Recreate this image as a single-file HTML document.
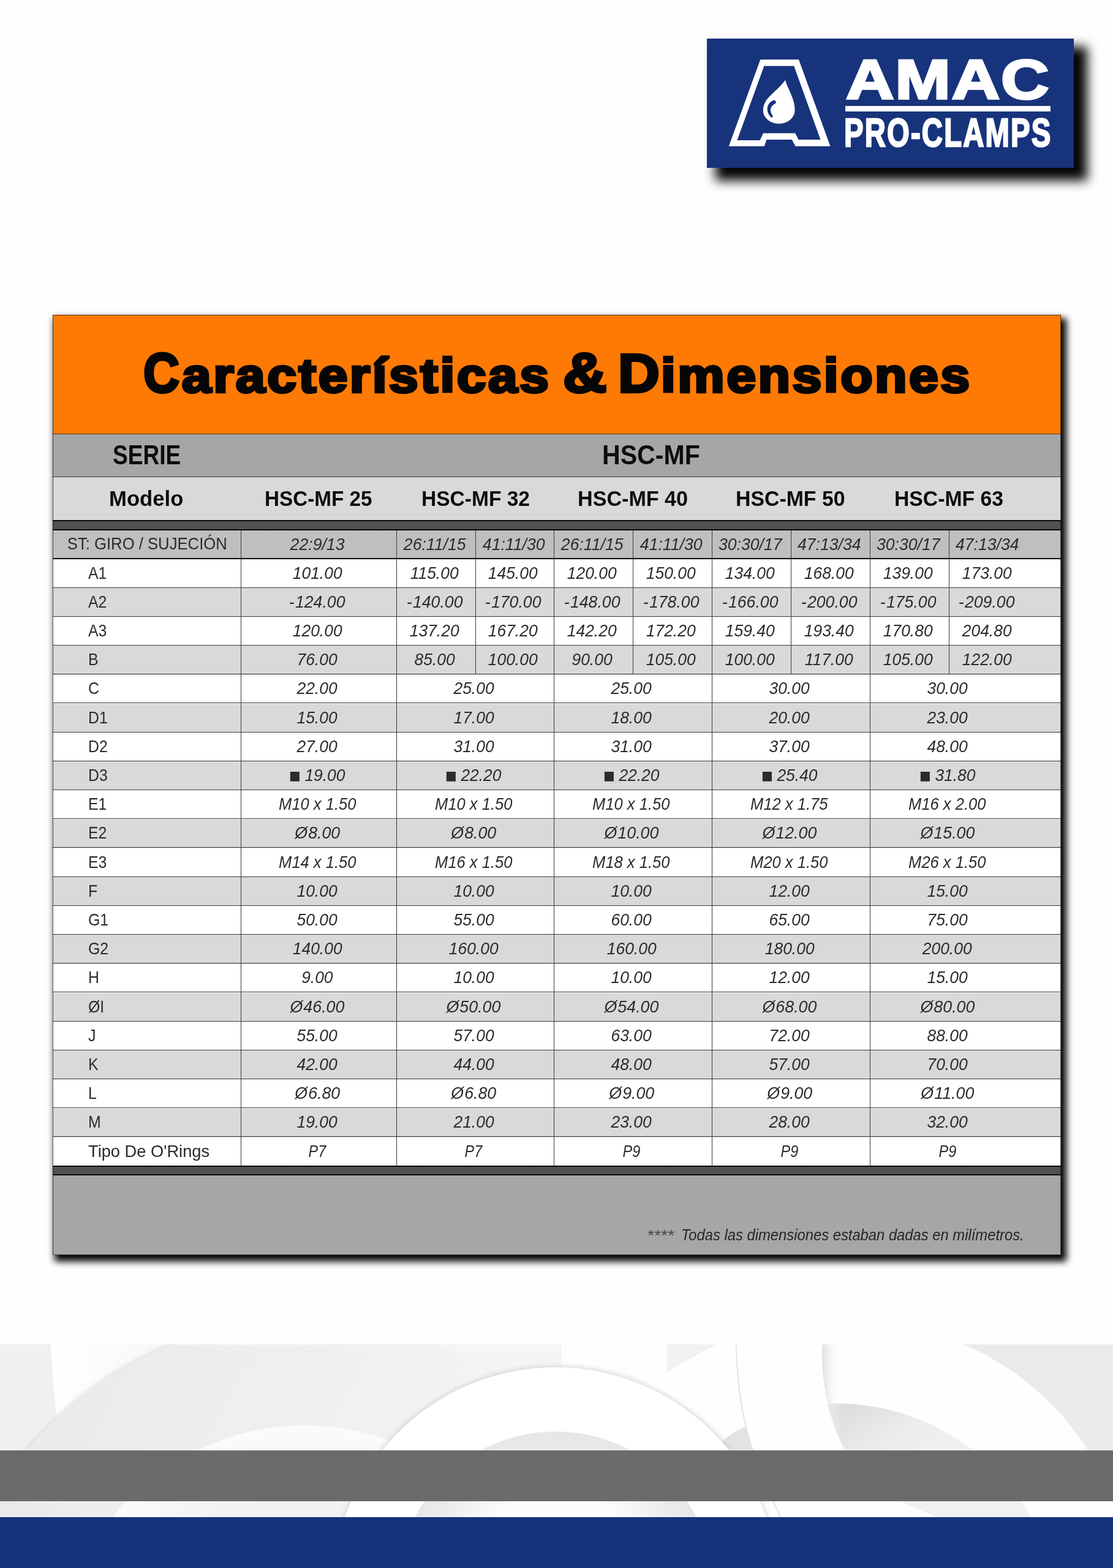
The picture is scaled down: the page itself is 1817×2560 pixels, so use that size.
<!DOCTYPE html>
<html lang="es">
<head>
<meta charset="utf-8">
<title>AMAC Pro-Clamps — Características &amp; Dimensiones HSC-MF</title>
<style>
*{box-sizing:border-box}
html,body{margin:0;padding:0;background:#fff}
body{width:1817px;height:2560px;overflow:hidden;font-family:"Liberation Sans",sans-serif;color:#111}
.page{position:relative;width:1817px;height:2560px;overflow:hidden;background:#fefefe}
.t{position:absolute;margin:0;white-space:pre;line-height:1;transform-origin:0 0}
h1{margin:0;font-size:inherit;font-weight:inherit}

/* footer */
.art{position:absolute;left:0;top:2194.7px;width:1817px;height:366px;display:block}
.band-gray{position:absolute;left:0;top:2367.9px;width:1817px;height:83.6px;background:#6a6a6a}
.band-blue{position:absolute;left:0;top:2477.2px;width:1817px;height:83px;background:#15317a}

/* logo */
.logo{position:absolute;left:1153.8px;top:63px;width:598.8px;height:210.8px;background:#17337b;
  box-shadow:18px 17px 17px 4px rgba(0,0,0,.98)}
.logo svg{position:absolute;left:0;top:0;width:598.8px;height:210.8px;display:block}
.logo-t{color:#fff;letter-spacing:0}
.logo-bar{position:absolute;left:1379.9px;top:172.9px;width:335.1px;height:9.6px;background:#fff}

/* card */
.card{position:absolute;left:86px;top:513.5px;width:1646px;height:1535px;background:#a6a6a6;
  box-shadow:6px 7.5px 11px 3px rgba(0,0,0,1)}
.card>.frame{top:0;height:1535px;border:1px solid rgba(0,0,0,.6);pointer-events:none}
.card>div{position:absolute;left:0;width:1646px}
.hd{top:0;height:194.7px;background:#ff7a05}
.serie{top:194.7px;height:70.7px;background:#a6a6a6}
.modelo{top:265.4px;height:70.3px;background:#d9d9d9}
.hatch{height:16.5px;border-top:2px solid #0a0a0a;border-bottom:2px solid #0a0a0a;
  background-color:#1a1a1a;
  background-image:linear-gradient(45deg,#6c6c6c 25%,transparent 25%,transparent 50%,#6c6c6c 50%,#6c6c6c 75%,transparent 75%);
  background-size:3px 3px}
.h1{top:335.6px}
.h2{top:1389.2px}
.st{top:352.1px;height:46.2px;background:#bfbfbf}
.r.w{background:#fff}
.r.g{background:#d9d9d9}
.foot{top:1405.4px;height:129.6px;background:#a6a6a6}
.card>.hl{height:1px;background:#3a3a3a}
.card>.hl.k2{height:2.2px;background:#0c0c0c}
.card>.hl.s1{background:#5a3a1a}
.card>.hl.s2{background:#333}
.card>.vl{width:1px;background:#3a3a3a}

/* text */
.title{color:#060606}
.title-wrap{display:block}
.sp{position:absolute;left:900px;top:600px;font-size:1px;color:transparent}
.h{color:#0d0d0d}
.cells{position:absolute;left:0;top:0}
.c{position:absolute;display:flex;align-items:center;justify-content:center;white-space:pre;line-height:1;
  font-size:27.6px;color:#2b2b2b}
.c span{display:inline-block}
.c.v{font-style:italic;padding-right:5.2px}
.c.v>span{transform:scaleX(.957)}
.c.vm>span{transform:scaleX(.925)}
.c.vo>span{transform:scaleX(.97)}
.c.vp>span{transform:scaleX(.85)}
.c.vn>span{transform:scaleX(.965)}
.c.lab{justify-content:flex-start;padding-left:57.8px}
.c.lab>span{transform:scaleX(.9);transform-origin:0 50%}
.c.tipo>span{transform:scaleX(.988)}
.c.stl{justify-content:center;padding-left:0}
.c.stl>span{transform:scaleX(.93);transform-origin:50% 50%}
.c.stv{padding-right:4px;padding-top:2px}
.c.stv>span{transform:scaleX(.965)}
.c .o{letter-spacing:1.2px}
.c .m{letter-spacing:1.5px}
.sq{font-style:normal;font-family:"DejaVu Sans","Liberation Sans",sans-serif;font-size:20.6px;margin-right:7px;position:relative;top:-2.4px}
.fn{color:#262626}
.fs{color:#484848}

</style>
</head>
<body>
<div class="page">
<svg class="art" viewBox="0 2194.7 1817 366" preserveAspectRatio="none" aria-hidden="true">
<defs>
<linearGradient id="gBig" gradientUnits="userSpaceOnUse" x1="150" y1="2200" x2="700" y2="2480"><stop offset="0" stop-color="#ebebeb"/><stop offset=".6" stop-color="#f0f0f0"/><stop offset="1" stop-color="#f4f4f4"/></linearGradient>
<radialGradient id="gIn" gradientUnits="userSpaceOnUse" cx="497" cy="2730" r="403"><stop offset="0" stop-color="#f0f0f0"/><stop offset=".72" stop-color="#f2f2f2"/><stop offset="1" stop-color="#fbfbfb"/></radialGradient>
<linearGradient id="gSl" gradientUnits="userSpaceOnUse" x1="84" y1="0" x2="300" y2="0"><stop offset="0" stop-color="#ffffff"/><stop offset="1" stop-color="#f6f6f6"/></linearGradient>
<linearGradient id="gCr" gradientUnits="userSpaceOnUse" x1="1400" y1="2290" x2="1480" y2="2420"><stop offset="0" stop-color="#dedede"/><stop offset=".5" stop-color="#ececec"/><stop offset="1" stop-color="#f1f1f1"/></linearGradient>
<radialGradient id="gRi" gradientUnits="userSpaceOnUse" cx="907" cy="2596" r="259"><stop offset="0" stop-color="#fdfdfd"/><stop offset=".62" stop-color="#fbfbfb"/><stop offset=".86" stop-color="#ececec"/><stop offset="1" stop-color="#e6e6e6"/></radialGradient>
<linearGradient id="gFold" gradientUnits="userSpaceOnUse" x1="1344" y1="0" x2="1372" y2="0"><stop offset="0" stop-color="#e2e2e2"/><stop offset="1" stop-color="#ffffff" stop-opacity="0"/></linearGradient>
<filter id="sh" x="-5%" y="-5%" width="110%" height="110%"><feGaussianBlur stdDeviation="3.5"/></filter>
<clipPath id="cR"><path d="M1342.3 2194.7A343 343 0 0 0 1420 2430L1817 2600V2194.7Z"/></clipPath>
</defs>
<rect x="0" y="2194.7" width="1817" height="366" fill="#fafafa"/>
<rect x="80" y="2194.7" width="260" height="366" fill="url(#gSl)"/>
<path d="M0 2194.7H82.8Q86 2262 94 2320Q110 2420 150 2561H0Z" fill="#f0f0f0"/>
<circle cx="498" cy="2744" r="593" fill="#cfcfcf" opacity=".55" filter="url(#sh)"/>
<circle cx="498" cy="2744" r="590" fill="url(#gBig)"/>
<circle cx="497" cy="2730" r="403" fill="url(#gIn)"/>
<path d="M712.7 2194.7H917V2232L812 2243Q760 2215 712.7 2194.7Z" fill="#f5f5f5"/>
<rect x="917" y="2194.7" width="900" height="366" fill="#fefefe"/>
<path d="M1089 2194.7H1171Q1115 2222 1089 2241Z" fill="#f1f1f1"/>
<path d="M1572.2 2194.7A439 439 0 0 1 1838 2540L1817 2561V2194.7Z" fill="#ebebeb"/>
<g clip-path="url(#cR)">
<circle cx="1365" cy="2656" r="365" fill="url(#gCr)"/>
<path d="M1342.3 2194.7A343 343 0 0 0 1379.6 2367H1400V2194.7Z" fill="url(#gFold)"/>
</g>
<path d="M1201.6 2194.7Q1205 2300 1229 2367.5Q1250 2430 1275 2477" fill="none" stroke="#e3e3e3" stroke-width="2"/>
<path d="M1180 2352Q1200 2335 1217 2329L1229 2367.5H1180Z" fill="#e3e3e3"/>
<circle cx="907" cy="2596" r="367" fill="#c8c8c8" opacity=".6" filter="url(#sh)"/>
<circle cx="907" cy="2596" r="364" fill="#fff"/>
<circle cx="907" cy="2596" r="259" fill="url(#gRi)"/>
</svg>

<div class="band-gray"></div>
<div class="band-blue"></div>
<div class="logo">
<svg viewBox="1153.8 63 598.8 210.8" aria-hidden="true">
<path fill="#fff" fill-rule="evenodd" d="M1241.1 97.3H1303.8L1355.3 238.8H1298.4L1292.6 227.9H1251.3L1247.5 238.8H1189.6Z M1247.2 107.8L1203.2 229H1240.4L1245.9 217.5H1298L1303.4 227.9H1339.3L1296 107.8Z"/>
<path fill="#fff" d="M1281.8 130.8C1283 137 1290 150 1294 161.3C1296.5 168.5 1297.3 174 1297.3 180.2C1297.3 192 1286 201.9 1271.6 201.9C1257 201.9 1245.6 192 1245.6 180.2C1245.6 166 1256 157.5 1264.8 149.1C1271 143.3 1278 136 1281.8 130.8Z"/>
<path fill="#17337b" d="M1261.6 164.3C1252 168 1248.6 181.5 1258.6 191.6C1260 192.6 1262.3 190.8 1261.4 189.3C1255.6 181.5 1256.8 173.2 1265.2 169.3A2.75 2.75 0 0 0 1261.6 164.3Z"/>
</svg>

</div>
<div class="t logo-t" style="left:1380.50px;top:85px;font-family:'Liberation Sans',sans-serif;font-weight:bold;font-style:normal;font-size:90.00px;-webkit-text-stroke:3.4px;letter-spacing:1.5px;transform:scaleX(1.2077)">AMAC</div>
<div class="logo-bar"></div>
<div class="t logo-t" style="left:1377.72px;top:184px;font-family:'Liberation Sans',sans-serif;font-weight:bold;font-style:normal;font-size:65.00px;-webkit-text-stroke:2.6px;letter-spacing:3px;transform:scaleX(0.7270)">PRO-CLAMPS</div>
<div class="card">
<div class="hd"></div><div class="serie"></div><div class="modelo"></div><div class="hatch h1"></div><div class="st"></div>
<div class="r w" style="top:399.30px;height:47.20px"></div>
<div class="r g" style="top:446.50px;height:47.20px"></div>
<div class="r w" style="top:493.70px;height:47.20px"></div>
<div class="r g" style="top:540.90px;height:47.20px"></div>
<div class="r w" style="top:588.10px;height:47.20px"></div>
<div class="r g" style="top:635.30px;height:47.20px"></div>
<div class="r w" style="top:682.50px;height:47.20px"></div>
<div class="r g" style="top:729.70px;height:47.20px"></div>
<div class="r w" style="top:776.90px;height:47.20px"></div>
<div class="r g" style="top:824.10px;height:47.20px"></div>
<div class="r w" style="top:871.30px;height:47.20px"></div>
<div class="r g" style="top:918.50px;height:47.20px"></div>
<div class="r w" style="top:965.70px;height:47.20px"></div>
<div class="r g" style="top:1012.90px;height:47.20px"></div>
<div class="r w" style="top:1060.10px;height:47.20px"></div>
<div class="r g" style="top:1107.30px;height:47.20px"></div>
<div class="r w" style="top:1154.50px;height:47.20px"></div>
<div class="r g" style="top:1201.70px;height:47.20px"></div>
<div class="r w" style="top:1248.90px;height:47.20px"></div>
<div class="r g" style="top:1296.10px;height:47.20px"></div>
<div class="r w" style="top:1343.30px;height:47.20px"></div>
<div class="hatch h2"></div><div class="foot"></div>
<div class="hl k2" style="top:397.30px"></div>
<div class="hl" style="top:445.00px"></div>
<div class="hl" style="top:492.20px"></div>
<div class="hl" style="top:539.40px"></div>
<div class="hl" style="top:586.60px"></div>
<div class="hl" style="top:633.80px"></div>
<div class="hl" style="top:681.00px"></div>
<div class="hl" style="top:728.20px"></div>
<div class="hl" style="top:775.40px"></div>
<div class="hl" style="top:822.60px"></div>
<div class="hl" style="top:869.80px"></div>
<div class="hl" style="top:917.00px"></div>
<div class="hl" style="top:964.20px"></div>
<div class="hl" style="top:1011.40px"></div>
<div class="hl" style="top:1058.60px"></div>
<div class="hl" style="top:1105.80px"></div>
<div class="hl" style="top:1153.00px"></div>
<div class="hl" style="top:1200.20px"></div>
<div class="hl" style="top:1247.40px"></div>
<div class="hl" style="top:1294.60px"></div>
<div class="hl" style="top:1341.80px"></div>
<div class="hl s1" style="top:194.20px"></div>
<div class="hl s2" style="top:264.90px"></div>
<div class="vl" style="left:307.00px;top:352.10px;height:1037.40px"></div>
<div class="vl" style="left:560.80px;top:352.10px;height:1037.40px"></div>
<div class="vl" style="left:689.60px;top:352.10px;height:235.00px"></div>
<div class="vl" style="left:817.90px;top:352.10px;height:1037.40px"></div>
<div class="vl" style="left:946.80px;top:352.10px;height:235.00px"></div>
<div class="vl" style="left:1075.80px;top:352.10px;height:1037.40px"></div>
<div class="vl" style="left:1204.90px;top:352.10px;height:235.00px"></div>
<div class="vl" style="left:1333.90px;top:352.10px;height:1037.40px"></div>
<div class="vl" style="left:1462.50px;top:352.10px;height:235.00px"></div>
<div class="frame"></div>
</div>
<h1 class="title-wrap"><span class="t title" style="left:233.59px;top:564px;font-family:'Liberation Sans',sans-serif;font-weight:bold;font-style:normal;font-size:90.00px;-webkit-text-stroke:4.4px;transform:scaleX(0.9048)">C</span><span class="t title" style="left:297.00px;top:574px;font-family:'Liberation Sans',sans-serif;font-weight:bold;font-style:normal;font-size:78.50px;-webkit-text-stroke:4.4px;letter-spacing:3.2px;transform:scaleX(1.0932)">aracterísticas</span><span class="sp"> </span><span class="t title" style="left:918.60px;top:564px;font-family:'Liberation Sans',sans-serif;font-weight:bold;font-style:normal;font-size:90.00px;-webkit-text-stroke:4.4px;transform:scaleX(1.1016)">&amp;</span><span class="sp"> </span><span class="t title" style="left:1009.06px;top:566px;font-family:'Liberation Sans',sans-serif;font-weight:bold;font-style:normal;font-size:88.50px;-webkit-text-stroke:4.4px;transform:scaleX(1.0603)">D</span><span class="t title" style="left:1079.32px;top:574px;font-family:'Liberation Sans',sans-serif;font-weight:bold;font-style:normal;font-size:78.50px;-webkit-text-stroke:4.4px;letter-spacing:3.2px;transform:scaleX(1.0943)">imensiones</span></h1>
<div class="t h" style="left:183.50px;top:722px;font-family:'Liberation Sans',sans-serif;font-weight:bold;font-style:normal;font-size:43.50px;transform:scaleX(0.8512)">SERIE</div>
<div class="t h" style="left:982.57px;top:722px;font-family:'Liberation Sans',sans-serif;font-weight:bold;font-style:normal;font-size:43.50px;transform:scaleX(0.9445)">HSC-MF</div>
<div class="t h" style="left:178.35px;top:797px;font-family:'Liberation Sans',sans-serif;font-weight:bold;font-style:normal;font-size:35.50px;transform:scaleX(0.9769)">Modelo</div>
<div class="t h" style="left:432.13px;top:797px;font-family:'Liberation Sans',sans-serif;font-weight:bold;font-style:normal;font-size:35.50px;transform:scaleX(0.9370)">HSC-MF 25</div>
<div class="t h" style="left:687.51px;top:797px;font-family:'Liberation Sans',sans-serif;font-weight:bold;font-style:normal;font-size:35.50px;transform:scaleX(0.9446)">HSC-MF 32</div>
<div class="t h" style="left:943.08px;top:797px;font-family:'Liberation Sans',sans-serif;font-weight:bold;font-style:normal;font-size:35.50px;transform:scaleX(0.9609)">HSC-MF 40</div>
<div class="t h" style="left:1201.39px;top:797px;font-family:'Liberation Sans',sans-serif;font-weight:bold;font-style:normal;font-size:35.50px;transform:scaleX(0.9527)">HSC-MF 50</div>
<div class="t h" style="left:1460.00px;top:797px;font-family:'Liberation Sans',sans-serif;font-weight:bold;font-style:normal;font-size:35.50px;transform:scaleX(0.9495)">HSC-MF 63</div>
<div class="cells">
<div class="c lab stl" style="left:86.50px;top:865.60px;width:307.00px;height:45.20px"><span>ST: GIRO / SUJECIÓN</span></div>
<div class="c v stv" style="left:393.50px;top:865.60px;width:253.80px;height:45.20px"><span>22:9/13</span></div>
<div class="c v stv" style="left:647.30px;top:865.60px;width:128.80px;height:45.20px"><span>26:11/15</span></div>
<div class="c v stv" style="left:776.10px;top:865.60px;width:128.30px;height:45.20px"><span>41:11/30</span></div>
<div class="c v stv" style="left:904.40px;top:865.60px;width:128.90px;height:45.20px"><span>26:11/15</span></div>
<div class="c v stv" style="left:1033.30px;top:865.60px;width:129.00px;height:45.20px"><span>41:11/30</span></div>
<div class="c v stv" style="left:1162.30px;top:865.60px;width:129.10px;height:45.20px"><span>30:30/17</span></div>
<div class="c v stv" style="left:1291.40px;top:865.60px;width:129.00px;height:45.20px"><span>47:13/34</span></div>
<div class="c v stv" style="left:1420.40px;top:865.60px;width:128.60px;height:45.20px"><span>30:30/17</span></div>
<div class="c v stv" style="left:1549.00px;top:865.60px;width:129.00px;height:45.20px"><span>47:13/34</span></div>
<div class="c lab" style="left:86.50px;top:911.80px;width:307.00px;height:47.20px"><span>A1</span></div>
<div class="c v" style="left:393.50px;top:911.80px;width:253.80px;height:47.20px"><span>101.00</span></div>
<div class="c v" style="left:647.30px;top:911.80px;width:128.80px;height:47.20px"><span>115.00</span></div>
<div class="c v" style="left:776.10px;top:911.80px;width:128.30px;height:47.20px"><span>145.00</span></div>
<div class="c v" style="left:904.40px;top:911.80px;width:128.90px;height:47.20px"><span>120.00</span></div>
<div class="c v" style="left:1033.30px;top:911.80px;width:129.00px;height:47.20px"><span>150.00</span></div>
<div class="c v" style="left:1162.30px;top:911.80px;width:129.10px;height:47.20px"><span>134.00</span></div>
<div class="c v" style="left:1291.40px;top:911.80px;width:129.00px;height:47.20px"><span>168.00</span></div>
<div class="c v" style="left:1420.40px;top:911.80px;width:128.60px;height:47.20px"><span>139.00</span></div>
<div class="c v" style="left:1549.00px;top:911.80px;width:129.00px;height:47.20px"><span>173.00</span></div>
<div class="c lab" style="left:86.50px;top:959.00px;width:307.00px;height:47.20px"><span>A2</span></div>
<div class="c v vn" style="left:393.50px;top:959.00px;width:253.80px;height:47.20px"><span><span class="m">-</span>124.00</span></div>
<div class="c v vn" style="left:647.30px;top:959.00px;width:128.80px;height:47.20px"><span><span class="m">-</span>140.00</span></div>
<div class="c v vn" style="left:776.10px;top:959.00px;width:128.30px;height:47.20px"><span><span class="m">-</span>170.00</span></div>
<div class="c v vn" style="left:904.40px;top:959.00px;width:128.90px;height:47.20px"><span><span class="m">-</span>148.00</span></div>
<div class="c v vn" style="left:1033.30px;top:959.00px;width:129.00px;height:47.20px"><span><span class="m">-</span>178.00</span></div>
<div class="c v vn" style="left:1162.30px;top:959.00px;width:129.10px;height:47.20px"><span><span class="m">-</span>166.00</span></div>
<div class="c v vn" style="left:1291.40px;top:959.00px;width:129.00px;height:47.20px"><span><span class="m">-</span>200.00</span></div>
<div class="c v vn" style="left:1420.40px;top:959.00px;width:128.60px;height:47.20px"><span><span class="m">-</span>175.00</span></div>
<div class="c v vn" style="left:1549.00px;top:959.00px;width:129.00px;height:47.20px"><span><span class="m">-</span>209.00</span></div>
<div class="c lab" style="left:86.50px;top:1006.20px;width:307.00px;height:47.20px"><span>A3</span></div>
<div class="c v" style="left:393.50px;top:1006.20px;width:253.80px;height:47.20px"><span>120.00</span></div>
<div class="c v" style="left:647.30px;top:1006.20px;width:128.80px;height:47.20px"><span>137.20</span></div>
<div class="c v" style="left:776.10px;top:1006.20px;width:128.30px;height:47.20px"><span>167.20</span></div>
<div class="c v" style="left:904.40px;top:1006.20px;width:128.90px;height:47.20px"><span>142.20</span></div>
<div class="c v" style="left:1033.30px;top:1006.20px;width:129.00px;height:47.20px"><span>172.20</span></div>
<div class="c v" style="left:1162.30px;top:1006.20px;width:129.10px;height:47.20px"><span>159.40</span></div>
<div class="c v" style="left:1291.40px;top:1006.20px;width:129.00px;height:47.20px"><span>193.40</span></div>
<div class="c v" style="left:1420.40px;top:1006.20px;width:128.60px;height:47.20px"><span>170.80</span></div>
<div class="c v" style="left:1549.00px;top:1006.20px;width:129.00px;height:47.20px"><span>204.80</span></div>
<div class="c lab" style="left:86.50px;top:1053.40px;width:307.00px;height:47.20px"><span>B</span></div>
<div class="c v" style="left:393.50px;top:1053.40px;width:253.80px;height:47.20px"><span>76.00</span></div>
<div class="c v" style="left:647.30px;top:1053.40px;width:128.80px;height:47.20px"><span>85.00</span></div>
<div class="c v" style="left:776.10px;top:1053.40px;width:128.30px;height:47.20px"><span>100.00</span></div>
<div class="c v" style="left:904.40px;top:1053.40px;width:128.90px;height:47.20px"><span>90.00</span></div>
<div class="c v" style="left:1033.30px;top:1053.40px;width:129.00px;height:47.20px"><span>105.00</span></div>
<div class="c v" style="left:1162.30px;top:1053.40px;width:129.10px;height:47.20px"><span>100.00</span></div>
<div class="c v" style="left:1291.40px;top:1053.40px;width:129.00px;height:47.20px"><span>117.00</span></div>
<div class="c v" style="left:1420.40px;top:1053.40px;width:128.60px;height:47.20px"><span>105.00</span></div>
<div class="c v" style="left:1549.00px;top:1053.40px;width:129.00px;height:47.20px"><span>122.00</span></div>
<div class="c lab" style="left:86.50px;top:1100.60px;width:307.00px;height:47.20px"><span>C</span></div>
<div class="c v" style="left:393.50px;top:1100.60px;width:253.80px;height:47.20px"><span>22.00</span></div>
<div class="c v" style="left:647.30px;top:1100.60px;width:257.10px;height:47.20px"><span>25.00</span></div>
<div class="c v" style="left:904.40px;top:1100.60px;width:257.90px;height:47.20px"><span>25.00</span></div>
<div class="c v" style="left:1162.30px;top:1100.60px;width:258.10px;height:47.20px"><span>30.00</span></div>
<div class="c v" style="left:1420.40px;top:1100.60px;width:257.60px;height:47.20px"><span>30.00</span></div>
<div class="c lab" style="left:86.50px;top:1147.80px;width:307.00px;height:47.20px"><span>D1</span></div>
<div class="c v" style="left:393.50px;top:1147.80px;width:253.80px;height:47.20px"><span>15.00</span></div>
<div class="c v" style="left:647.30px;top:1147.80px;width:257.10px;height:47.20px"><span>17.00</span></div>
<div class="c v" style="left:904.40px;top:1147.80px;width:257.90px;height:47.20px"><span>18.00</span></div>
<div class="c v" style="left:1162.30px;top:1147.80px;width:258.10px;height:47.20px"><span>20.00</span></div>
<div class="c v" style="left:1420.40px;top:1147.80px;width:257.60px;height:47.20px"><span>23.00</span></div>
<div class="c lab" style="left:86.50px;top:1195.00px;width:307.00px;height:47.20px"><span>D2</span></div>
<div class="c v" style="left:393.50px;top:1195.00px;width:253.80px;height:47.20px"><span>27.00</span></div>
<div class="c v" style="left:647.30px;top:1195.00px;width:257.10px;height:47.20px"><span>31.00</span></div>
<div class="c v" style="left:904.40px;top:1195.00px;width:257.90px;height:47.20px"><span>31.00</span></div>
<div class="c v" style="left:1162.30px;top:1195.00px;width:258.10px;height:47.20px"><span>37.00</span></div>
<div class="c v" style="left:1420.40px;top:1195.00px;width:257.60px;height:47.20px"><span>48.00</span></div>
<div class="c lab" style="left:86.50px;top:1242.20px;width:307.00px;height:47.20px"><span>D3</span></div>
<div class="c v vsq" style="left:393.50px;top:1242.20px;width:253.80px;height:47.20px"><span><span class="sq">■</span>19.00</span></div>
<div class="c v vsq" style="left:647.30px;top:1242.20px;width:257.10px;height:47.20px"><span><span class="sq">■</span>22.20</span></div>
<div class="c v vsq" style="left:904.40px;top:1242.20px;width:257.90px;height:47.20px"><span><span class="sq">■</span>22.20</span></div>
<div class="c v vsq" style="left:1162.30px;top:1242.20px;width:258.10px;height:47.20px"><span><span class="sq">■</span>25.40</span></div>
<div class="c v vsq" style="left:1420.40px;top:1242.20px;width:257.60px;height:47.20px"><span><span class="sq">■</span>31.80</span></div>
<div class="c lab" style="left:86.50px;top:1289.40px;width:307.00px;height:47.20px"><span>E1</span></div>
<div class="c v vm" style="left:393.50px;top:1289.40px;width:253.80px;height:47.20px"><span>M10 x 1.50</span></div>
<div class="c v vm" style="left:647.30px;top:1289.40px;width:257.10px;height:47.20px"><span>M10 x 1.50</span></div>
<div class="c v vm" style="left:904.40px;top:1289.40px;width:257.90px;height:47.20px"><span>M10 x 1.50</span></div>
<div class="c v vm" style="left:1162.30px;top:1289.40px;width:258.10px;height:47.20px"><span>M12 x 1.75</span></div>
<div class="c v vm" style="left:1420.40px;top:1289.40px;width:257.60px;height:47.20px"><span>M16 x 2.00</span></div>
<div class="c lab" style="left:86.50px;top:1336.60px;width:307.00px;height:47.20px"><span>E2</span></div>
<div class="c v vo" style="left:393.50px;top:1336.60px;width:253.80px;height:47.20px"><span><span class="o">Ø</span>8.00</span></div>
<div class="c v vo" style="left:647.30px;top:1336.60px;width:257.10px;height:47.20px"><span><span class="o">Ø</span>8.00</span></div>
<div class="c v vo" style="left:904.40px;top:1336.60px;width:257.90px;height:47.20px"><span><span class="o">Ø</span>10.00</span></div>
<div class="c v vo" style="left:1162.30px;top:1336.60px;width:258.10px;height:47.20px"><span><span class="o">Ø</span>12.00</span></div>
<div class="c v vo" style="left:1420.40px;top:1336.60px;width:257.60px;height:47.20px"><span><span class="o">Ø</span>15.00</span></div>
<div class="c lab" style="left:86.50px;top:1383.80px;width:307.00px;height:47.20px"><span>E3</span></div>
<div class="c v vm" style="left:393.50px;top:1383.80px;width:253.80px;height:47.20px"><span>M14 x 1.50</span></div>
<div class="c v vm" style="left:647.30px;top:1383.80px;width:257.10px;height:47.20px"><span>M16 x 1.50</span></div>
<div class="c v vm" style="left:904.40px;top:1383.80px;width:257.90px;height:47.20px"><span>M18 x 1.50</span></div>
<div class="c v vm" style="left:1162.30px;top:1383.80px;width:258.10px;height:47.20px"><span>M20 x 1.50</span></div>
<div class="c v vm" style="left:1420.40px;top:1383.80px;width:257.60px;height:47.20px"><span>M26 x 1.50</span></div>
<div class="c lab" style="left:86.50px;top:1431.00px;width:307.00px;height:47.20px"><span>F</span></div>
<div class="c v" style="left:393.50px;top:1431.00px;width:253.80px;height:47.20px"><span>10.00</span></div>
<div class="c v" style="left:647.30px;top:1431.00px;width:257.10px;height:47.20px"><span>10.00</span></div>
<div class="c v" style="left:904.40px;top:1431.00px;width:257.90px;height:47.20px"><span>10.00</span></div>
<div class="c v" style="left:1162.30px;top:1431.00px;width:258.10px;height:47.20px"><span>12.00</span></div>
<div class="c v" style="left:1420.40px;top:1431.00px;width:257.60px;height:47.20px"><span>15.00</span></div>
<div class="c lab" style="left:86.50px;top:1478.20px;width:307.00px;height:47.20px"><span>G1</span></div>
<div class="c v" style="left:393.50px;top:1478.20px;width:253.80px;height:47.20px"><span>50.00</span></div>
<div class="c v" style="left:647.30px;top:1478.20px;width:257.10px;height:47.20px"><span>55.00</span></div>
<div class="c v" style="left:904.40px;top:1478.20px;width:257.90px;height:47.20px"><span>60.00</span></div>
<div class="c v" style="left:1162.30px;top:1478.20px;width:258.10px;height:47.20px"><span>65.00</span></div>
<div class="c v" style="left:1420.40px;top:1478.20px;width:257.60px;height:47.20px"><span>75.00</span></div>
<div class="c lab" style="left:86.50px;top:1525.40px;width:307.00px;height:47.20px"><span>G2</span></div>
<div class="c v" style="left:393.50px;top:1525.40px;width:253.80px;height:47.20px"><span>140.00</span></div>
<div class="c v" style="left:647.30px;top:1525.40px;width:257.10px;height:47.20px"><span>160.00</span></div>
<div class="c v" style="left:904.40px;top:1525.40px;width:257.90px;height:47.20px"><span>160.00</span></div>
<div class="c v" style="left:1162.30px;top:1525.40px;width:258.10px;height:47.20px"><span>180.00</span></div>
<div class="c v" style="left:1420.40px;top:1525.40px;width:257.60px;height:47.20px"><span>200.00</span></div>
<div class="c lab" style="left:86.50px;top:1572.60px;width:307.00px;height:47.20px"><span>H</span></div>
<div class="c v" style="left:393.50px;top:1572.60px;width:253.80px;height:47.20px"><span>9.00</span></div>
<div class="c v" style="left:647.30px;top:1572.60px;width:257.10px;height:47.20px"><span>10.00</span></div>
<div class="c v" style="left:904.40px;top:1572.60px;width:257.90px;height:47.20px"><span>10.00</span></div>
<div class="c v" style="left:1162.30px;top:1572.60px;width:258.10px;height:47.20px"><span>12.00</span></div>
<div class="c v" style="left:1420.40px;top:1572.60px;width:257.60px;height:47.20px"><span>15.00</span></div>
<div class="c lab" style="left:86.50px;top:1619.80px;width:307.00px;height:47.20px"><span>ØI</span></div>
<div class="c v vo" style="left:393.50px;top:1619.80px;width:253.80px;height:47.20px"><span><span class="o">Ø</span>46.00</span></div>
<div class="c v vo" style="left:647.30px;top:1619.80px;width:257.10px;height:47.20px"><span><span class="o">Ø</span>50.00</span></div>
<div class="c v vo" style="left:904.40px;top:1619.80px;width:257.90px;height:47.20px"><span><span class="o">Ø</span>54.00</span></div>
<div class="c v vo" style="left:1162.30px;top:1619.80px;width:258.10px;height:47.20px"><span><span class="o">Ø</span>68.00</span></div>
<div class="c v vo" style="left:1420.40px;top:1619.80px;width:257.60px;height:47.20px"><span><span class="o">Ø</span>80.00</span></div>
<div class="c lab" style="left:86.50px;top:1667.00px;width:307.00px;height:47.20px"><span>J</span></div>
<div class="c v" style="left:393.50px;top:1667.00px;width:253.80px;height:47.20px"><span>55.00</span></div>
<div class="c v" style="left:647.30px;top:1667.00px;width:257.10px;height:47.20px"><span>57.00</span></div>
<div class="c v" style="left:904.40px;top:1667.00px;width:257.90px;height:47.20px"><span>63.00</span></div>
<div class="c v" style="left:1162.30px;top:1667.00px;width:258.10px;height:47.20px"><span>72.00</span></div>
<div class="c v" style="left:1420.40px;top:1667.00px;width:257.60px;height:47.20px"><span>88.00</span></div>
<div class="c lab" style="left:86.50px;top:1714.20px;width:307.00px;height:47.20px"><span>K</span></div>
<div class="c v" style="left:393.50px;top:1714.20px;width:253.80px;height:47.20px"><span>42.00</span></div>
<div class="c v" style="left:647.30px;top:1714.20px;width:257.10px;height:47.20px"><span>44.00</span></div>
<div class="c v" style="left:904.40px;top:1714.20px;width:257.90px;height:47.20px"><span>48.00</span></div>
<div class="c v" style="left:1162.30px;top:1714.20px;width:258.10px;height:47.20px"><span>57.00</span></div>
<div class="c v" style="left:1420.40px;top:1714.20px;width:257.60px;height:47.20px"><span>70.00</span></div>
<div class="c lab" style="left:86.50px;top:1761.40px;width:307.00px;height:47.20px"><span>L</span></div>
<div class="c v vo" style="left:393.50px;top:1761.40px;width:253.80px;height:47.20px"><span><span class="o">Ø</span>6.80</span></div>
<div class="c v vo" style="left:647.30px;top:1761.40px;width:257.10px;height:47.20px"><span><span class="o">Ø</span>6.80</span></div>
<div class="c v vo" style="left:904.40px;top:1761.40px;width:257.90px;height:47.20px"><span><span class="o">Ø</span>9.00</span></div>
<div class="c v vo" style="left:1162.30px;top:1761.40px;width:258.10px;height:47.20px"><span><span class="o">Ø</span>9.00</span></div>
<div class="c v vo" style="left:1420.40px;top:1761.40px;width:257.60px;height:47.20px"><span><span class="o">Ø</span>11.00</span></div>
<div class="c lab" style="left:86.50px;top:1808.60px;width:307.00px;height:47.20px"><span>M</span></div>
<div class="c v" style="left:393.50px;top:1808.60px;width:253.80px;height:47.20px"><span>19.00</span></div>
<div class="c v" style="left:647.30px;top:1808.60px;width:257.10px;height:47.20px"><span>21.00</span></div>
<div class="c v" style="left:904.40px;top:1808.60px;width:257.90px;height:47.20px"><span>23.00</span></div>
<div class="c v" style="left:1162.30px;top:1808.60px;width:258.10px;height:47.20px"><span>28.00</span></div>
<div class="c v" style="left:1420.40px;top:1808.60px;width:257.60px;height:47.20px"><span>32.00</span></div>
<div class="c lab tipo" style="left:86.50px;top:1855.80px;width:307.00px;height:47.20px"><span>Tipo De O&#x27;Rings</span></div>
<div class="c v vp" style="left:393.50px;top:1855.80px;width:253.80px;height:47.20px"><span>P7</span></div>
<div class="c v vp" style="left:647.30px;top:1855.80px;width:257.10px;height:47.20px"><span>P7</span></div>
<div class="c v vp" style="left:904.40px;top:1855.80px;width:257.90px;height:47.20px"><span>P9</span></div>
<div class="c v vp" style="left:1162.30px;top:1855.80px;width:258.10px;height:47.20px"><span>P9</span></div>
<div class="c v vp" style="left:1420.40px;top:1855.80px;width:257.60px;height:47.20px"><span>P9</span></div>
</div>
<div class="t fn fs" style="left:1056.24px;top:2005px;font-family:'Liberation Sans',sans-serif;font-weight:normal;font-style:italic;font-size:25.00px;transform:scaleX(1.1297)">****</div>
<div class="t fn" style="left:1112.07px;top:2003px;font-family:'Liberation Sans',sans-serif;font-weight:normal;font-style:italic;font-size:26.00px;transform:scaleX(0.9147)">Todas las dimensiones estaban dadas en milímetros.</div>
</div>
</body>
</html>
